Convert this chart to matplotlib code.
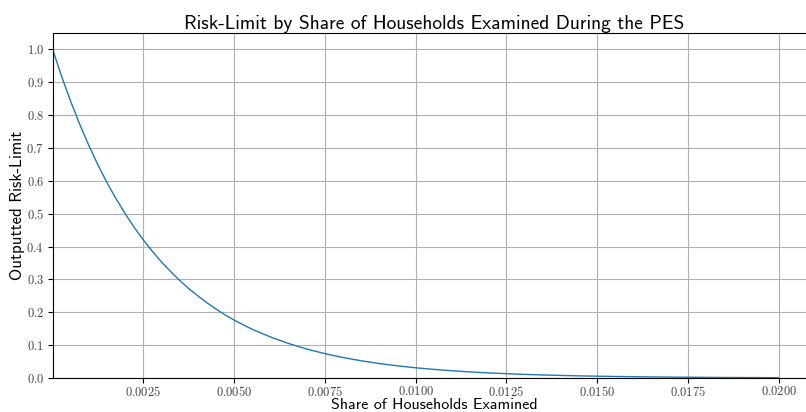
import matplotlib
matplotlib.use("Agg")
import matplotlib.pyplot as plt
from matplotlib.ticker import FuncFormatter

# share of households examined vs. outputted risk-limit
share = [0.0, 0.00025, 0.0005, 0.00075, 0.001, 0.00125, 0.0015, 0.00175, 0.002, 0.00225,
         0.0025, 0.00275, 0.003, 0.00325, 0.0035, 0.00375, 0.004, 0.00425, 0.0045, 0.00475,
         0.005, 0.0055, 0.006, 0.0065, 0.007, 0.0075, 0.008, 0.0085, 0.009, 0.0095,
         0.010, 0.0105, 0.011, 0.0115, 0.012, 0.0125, 0.013, 0.0135, 0.014, 0.0145,
         0.015, 0.0155, 0.016, 0.0165, 0.017, 0.0175, 0.018, 0.0185, 0.019, 0.0195, 0.020]
risk = [1.0, 0.917, 0.841, 0.771, 0.707, 0.648, 0.594, 0.545, 0.500, 0.458,
        0.420, 0.385, 0.353, 0.324, 0.297, 0.272, 0.250, 0.229, 0.210, 0.192,
        0.176, 0.148, 0.125, 0.105, 0.0881, 0.0741, 0.0623, 0.0524, 0.0440, 0.0370,
        0.0311, 0.0262, 0.0220, 0.0185, 0.0155, 0.0131, 0.0110, 0.0092, 0.0078, 0.0065,
        0.0055, 0.0046, 0.0039, 0.0033, 0.0027, 0.0023, 0.0019, 0.0016, 0.0014, 0.0012, 0.0010]
xticks = [0.0025, 0.0050, 0.0075, 0.0100, 0.0125, 0.0150, 0.0175, 0.0200]
yticks = [0.0, 0.1, 0.2, 0.3, 0.4, 0.5, 0.6, 0.7, 0.8, 0.9, 1.0]

plt.rcParams['mathtext.fontset'] = 'cm'

fig = plt.figure(figsize=(8.06, 4.12), dpi=100)
ax = fig.add_axes([53 / 806, 34 / 412, 762 / 806, 345 / 412])
ax.plot(share, risk, color='#1f77b4', linewidth=1.0)
ax.set_xlim(0.00001, 0.021)
ax.set_ylim(0, 1.05)
ax.set_xticks(xticks)
ax.set_yticks(yticks)
ax.xaxis.set_major_formatter(FuncFormatter(lambda v, p: r'$%.4f$' % v))
ax.yaxis.set_major_formatter(FuncFormatter(lambda v, p: r'$%.1f$' % v))
ax.tick_params(labelsize=9, labelcolor='#444444', pad=3)
ax.tick_params(axis='x', pad=1.5)
ax.grid(True, color='#b0b0b0', linewidth=0.8)

ax.set_title("Risk-Limit by Share of Households Examined During the PES",
             family='cmss10', fontsize=14, pad=3)
ax.set_xlabel("Share of Households Examined", family='cmss10', fontsize=11.5, labelpad=-0.5)
ax.set_ylabel("Outputted Risk-Limit", family='cmss10', fontsize=12, labelpad=1)

fig.savefig("out.png", dpi=100)
